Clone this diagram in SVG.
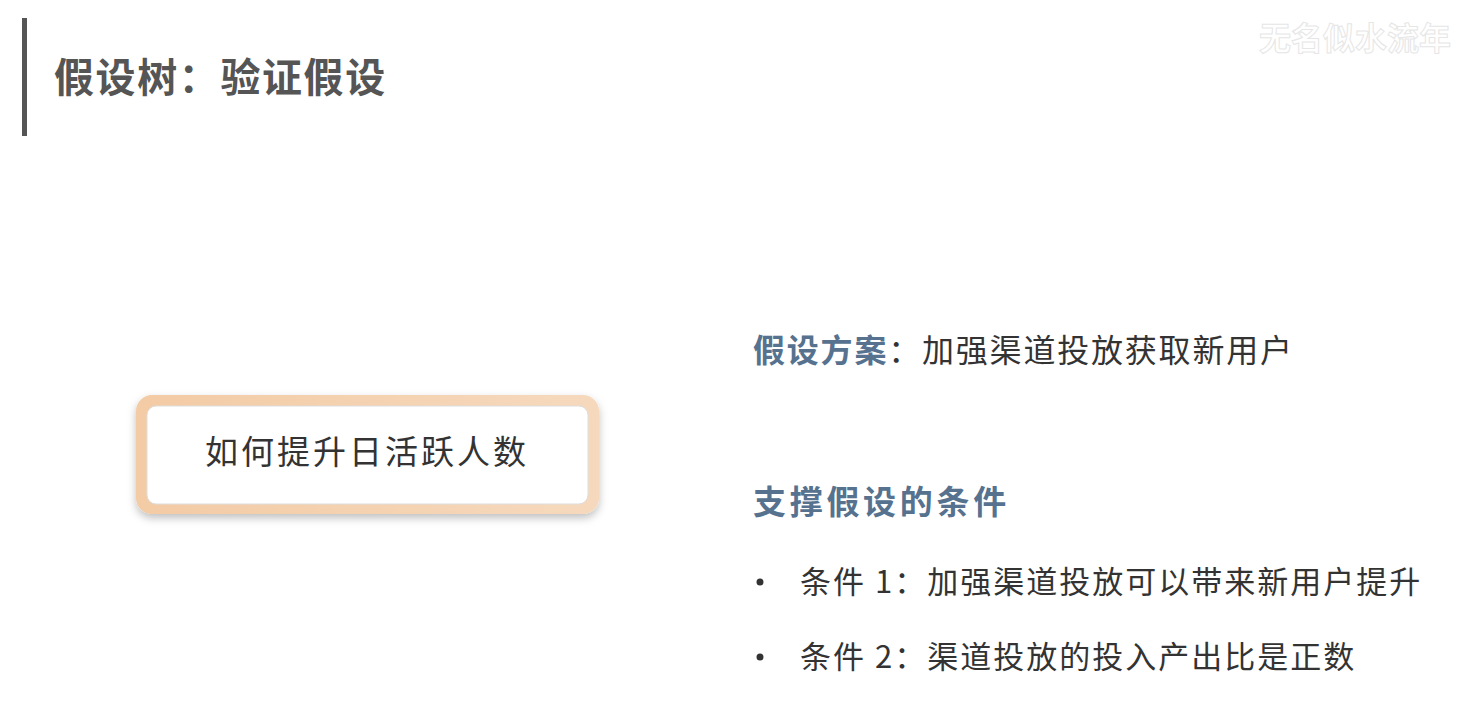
<svg xmlns="http://www.w3.org/2000/svg" width="1471" height="713" viewBox="0 0 1471 713">
<defs>
<style>
.cjk{font-family:"Noto Sans CJK SC","Noto Sans",sans-serif}
.title{font-size:40px;font-weight:700;fill:#555}
.blue{fill:#56728f;font-weight:700}
.body{fill:#333;font-weight:400}
</style>
<filter id="sh" x="-10%" y="-20%" width="120%" height="150%">
<feDropShadow dx="0" dy="4" stdDeviation="4" flood-color="#000" flood-opacity="0.25"/>
</filter>
<linearGradient id="bd" x1="0" y1="0" x2="1" y2="0">
<stop offset="0" stop-color="#f3cba5"/>
<stop offset="1" stop-color="#f6d9bd"/>
</linearGradient>
</defs>
<rect width="1471" height="713" fill="#fff"/>
<g id="header">
<rect x="22" y="18" width="5" height="118" fill="#555"/>
<text class="cjk title" x="54" y="92" letter-spacing="1.6">假设树：验证假设</text>
</g>
<text class="cjk" x="1259" y="50" font-size="32" font-weight="700" fill="#fff" stroke="#e6e6e6" stroke-width="1">无名似水流年</text>
<g id="root">
<rect x="136" y="395" width="463" height="119" rx="16" fill="url(#bd)" filter="url(#sh)"/>
<rect x="147" y="406" width="441" height="98" rx="9" fill="#fff" stroke="#ddd" stroke-width="1"/>
<text class="cjk body" x="367" y="464" font-size="33" letter-spacing="3" text-anchor="middle">如何提升日活跃人数</text>
</g>
<g id="connectors"></g>
<g id="plan">
<text class="cjk" x="753" y="362" font-size="32" letter-spacing="1.8"><tspan class="blue">假设方案</tspan><tspan class="body">：加强渠道投放获取新用户</tspan></text>
</g>
<g id="conditions">
<text class="cjk blue" x="753" y="514" font-size="33" letter-spacing="3.7">支撑假设的条件</text>
<circle cx="760" cy="582" r="3.5" fill="#333"/>
<text class="cjk body" x="800" y="593" font-size="31" letter-spacing="2">条件 1：加强渠道投放可以带来新用户提升</text>
<circle cx="760" cy="657" r="3.5" fill="#333"/>
<text class="cjk body" x="800" y="668" font-size="31" letter-spacing="2">条件 2：渠道投放的投入产出比是正数</text>
</g>
</svg>
